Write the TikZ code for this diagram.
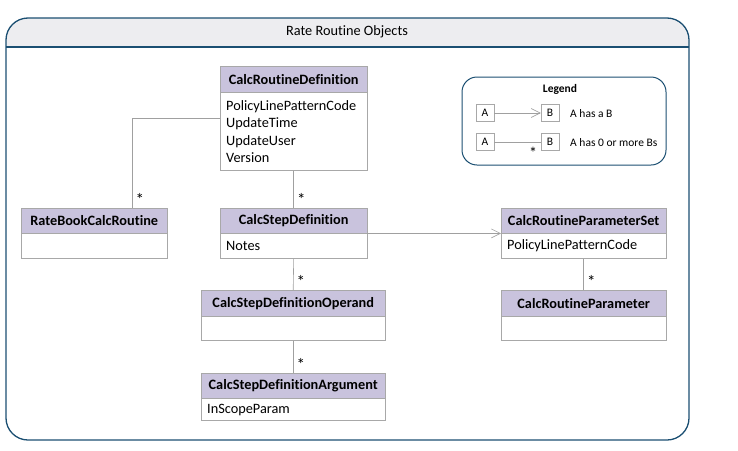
\documentclass[tikz,border=0pt]{standalone}
\usepackage{fontspec}
\setmainfont{Carlito}[Ligatures=NoCommon]
\usetikzlibrary{shapes,arrows.meta}

\definecolor{framecol}{HTML}{1B4F72}
\definecolor{titlecol}{HTML}{EDEDF0}
\definecolor{headcol}{HTML}{C9C3DD}
\definecolor{boxcol}{HTML}{A8A8A8}
\definecolor{linecol}{HTML}{A0A0A0}

\begin{document}
\begin{tikzpicture}[x=1pt, y=-1pt,
    every node/.style={font=\fontsize{14.3}{17.3}\selectfont},
    head/.style={draw=boxcol, fill=headcol, anchor=north west, inner sep=0pt,
                 font=\fontsize{14.3}{16}\selectfont\bfseries},
    body/.style={draw=boxcol, fill=white, anchor=north west, align=left,
                 inner xsep=6pt, inner ysep=4pt},
    assoc/.style={draw=linecol, line width=0.6pt},
    many/.style={anchor=south west, inner sep=0pt, xshift=3pt, yshift=2pt,
                 font=\fontsize{17}{17}\selectfont},
    tiny/.style={draw=boxcol, minimum width=18pt, minimum height=17pt,
                 inner sep=0pt, font=\fontsize{11.5}{11.5}\selectfont},
    legtext/.style={anchor=west, inner sep=0pt, font=\fontsize{11.5}{11.5}\selectfont},
    barb/.style={-{Straight Barb[length=9pt, width=9pt]}}]
    \useasboundingbox (0,0) rectangle (738,450);

    %% frame
    \begin{scope}
    \clip (0,0) rectangle (738,47);
    \fill[titlecol, rounded corners=22] (6,18) rectangle (689,440);
    \end{scope}
    \draw[framecol, line width=1.3pt] (6,47) -- (689,47);
    \draw[framecol, line width=1.3pt, rounded corners=22] (6,18) rectangle (689,440);
    \node (title) at (347,32) {Rate Routine Objects};

    %% legend
    \draw[framecol, line width=1pt, rounded corners=15] (462,77) rectangle (666,165);
    \node[font=\fontsize{11.5}{11.5}\selectfont\bfseries] (leg) at (560,89) {Legend};
    \node[tiny] (la1) at (485,113) {A};
    \node[tiny] (lb1) at (550,113) {B};
    \node[tiny] (la2) at (485,142) {A};
    \node[tiny] (lb2) at (550,142) {B};
    \node[legtext] (lt1) at (570,114) {A has a B};
    \node[legtext] (lt2) at (570,143) {A has 0 or more Bs};
    \draw[assoc, barb] (la1) -- (lb1);
    \draw[assoc] (la2) -- (lb2);
    \node[font=\fontsize{16}{16}\selectfont] (ls) at (533,153) {*};

    %% classes
    \node[head, minimum width=147pt, minimum height=26pt] (crd) at (220,66) {CalcRoutineDefinition};
    \node[body, text width=135pt, minimum height=78pt] (crdb) at (crd.south west)
        {PolicyLinePatternCode\\UpdateTime\\UpdateUser\\Version};

    \node[head, minimum width=146pt, minimum height=25pt] (rbcr) at (21,208) {RateBookCalcRoutine};
    \node[body, text width=134pt, minimum height=25pt] (rbcrb) at (rbcr.south west) {};

    \node[head, minimum width=147pt, minimum height=25pt] (csd) at (220,208) {CalcStepDefinition};
    \node[body, text width=135pt, minimum height=25pt] (csdb) at (csd.south west) {Notes};

    \node[head, minimum width=184pt, minimum height=26pt] (csdo) at (201,290) {CalcStepDefinitionOperand};
    \node[body, text width=172pt, minimum height=24pt] (csdob) at (csdo.south west) {};

    \node[head, minimum width=184pt, minimum height=25pt] (csda) at (201,373) {CalcStepDefinitionArgument};
    \node[body, text width=172pt, minimum height=22pt] (csdab) at (csda.south west) {InScopeParam};

    \node[head, minimum width=165pt, minimum height=25pt] (crps) at (501,208) {CalcRoutineParameterSet};
    \node[body, text width=153pt, minimum height=25pt] (crpsb) at (crps.south west) {PolicyLinePatternCode};

    \node[head, minimum width=165pt, minimum height=26pt] (crp) at (501,290) {CalcRoutineParameter};
    \node[body, text width=153pt, minimum height=24pt] (crpb) at (crp.south west) {};

    %% links
    \draw[assoc] (crdb.north west) ++(0,26) -| ([xshift=38pt]rbcr.north) node[many] {*};
    \draw[assoc] (crdb.south) -- (csd.north) node[many] {*};
    \draw[assoc, barb] (csd.south east) -- (crps.south west);
    \draw[assoc] (csdb.south) -- (csdo.north) node[many] {*};
    \draw[assoc] (csdob.south) -- (csda.north) node[many] {*};
    \draw[assoc] (crpsb.south) -- (crp.north) node[many] {*};
\end{tikzpicture}
\end{document}
